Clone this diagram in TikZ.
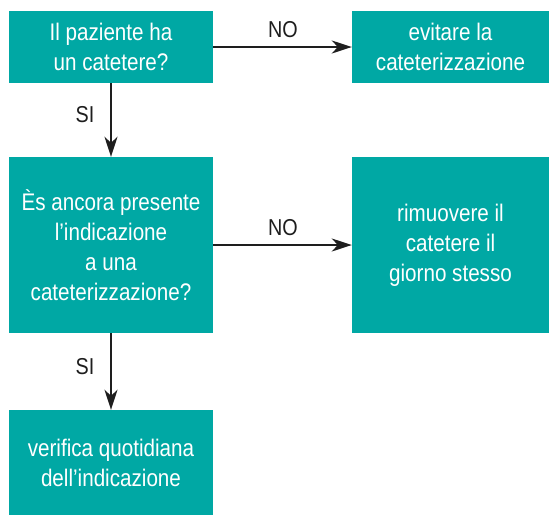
\documentclass[tikz,border=0pt]{standalone}
\usepackage{fontspec}
\setmainfont{Liberation Sans}[FakeStretch=0.86]
\usetikzlibrary{arrows.meta}
\definecolor{teal1}{RGB}{0,168,164}
\definecolor{ink}{RGB}{30,30,30}
\tikzset{
  box/.style={fill=teal1, draw=none, inner sep=0pt, text=white, align=center,
    font=\fontsize{24}{30}\selectfont},
  lab/.style={text=ink, font=\fontsize{23}{25}\selectfont, inner sep=0pt},
  arr/.style={draw=ink, line width=2pt, -{Stealth[length=20pt,width=13pt,inset=6pt]}}
}
\begin{document}
\begin{tikzpicture}[x=1pt,y=-1pt]
\useasboundingbox (0,0) rectangle (549,515);
\node[box, minimum width=204pt, minimum height=72pt] (b1) at (111,47) {Il paziente ha\\un catetere?};
\node[box, minimum width=197pt, minimum height=72pt] (b2) at (450.5,47) {evitare la\\cateterizzazione};
\node[box, minimum width=204pt, minimum height=176pt] (b3) at (111,245) {Ès ancora presente\\l’indicazione\\a una\\cateterizzazione?};
\node[box, minimum width=197pt, minimum height=176pt] (b4) at (450.5,245) {rimuovere il\\catetere il\\giorno stesso};
\node[box, minimum width=204pt, minimum height=105pt] (b5) at (111,462.5) {verifica quotidiana\\dell’indicazione};
\draw[arr] (b1.east) -- (b2.west);
\draw[arr] (b3.east) -- (b4.west);
\draw[arr] (b1.south) -- (b3.north);
\draw[arr] (b3.south) -- (b5.north);
\node[lab] (n1) at (283,30) {NO};
\node[lab] (n2) at (283,228) {NO};
\node[lab] (s1) at (85,115) {SI};
\node[lab] (s2) at (85,367) {SI};
\end{tikzpicture}
\end{document}
